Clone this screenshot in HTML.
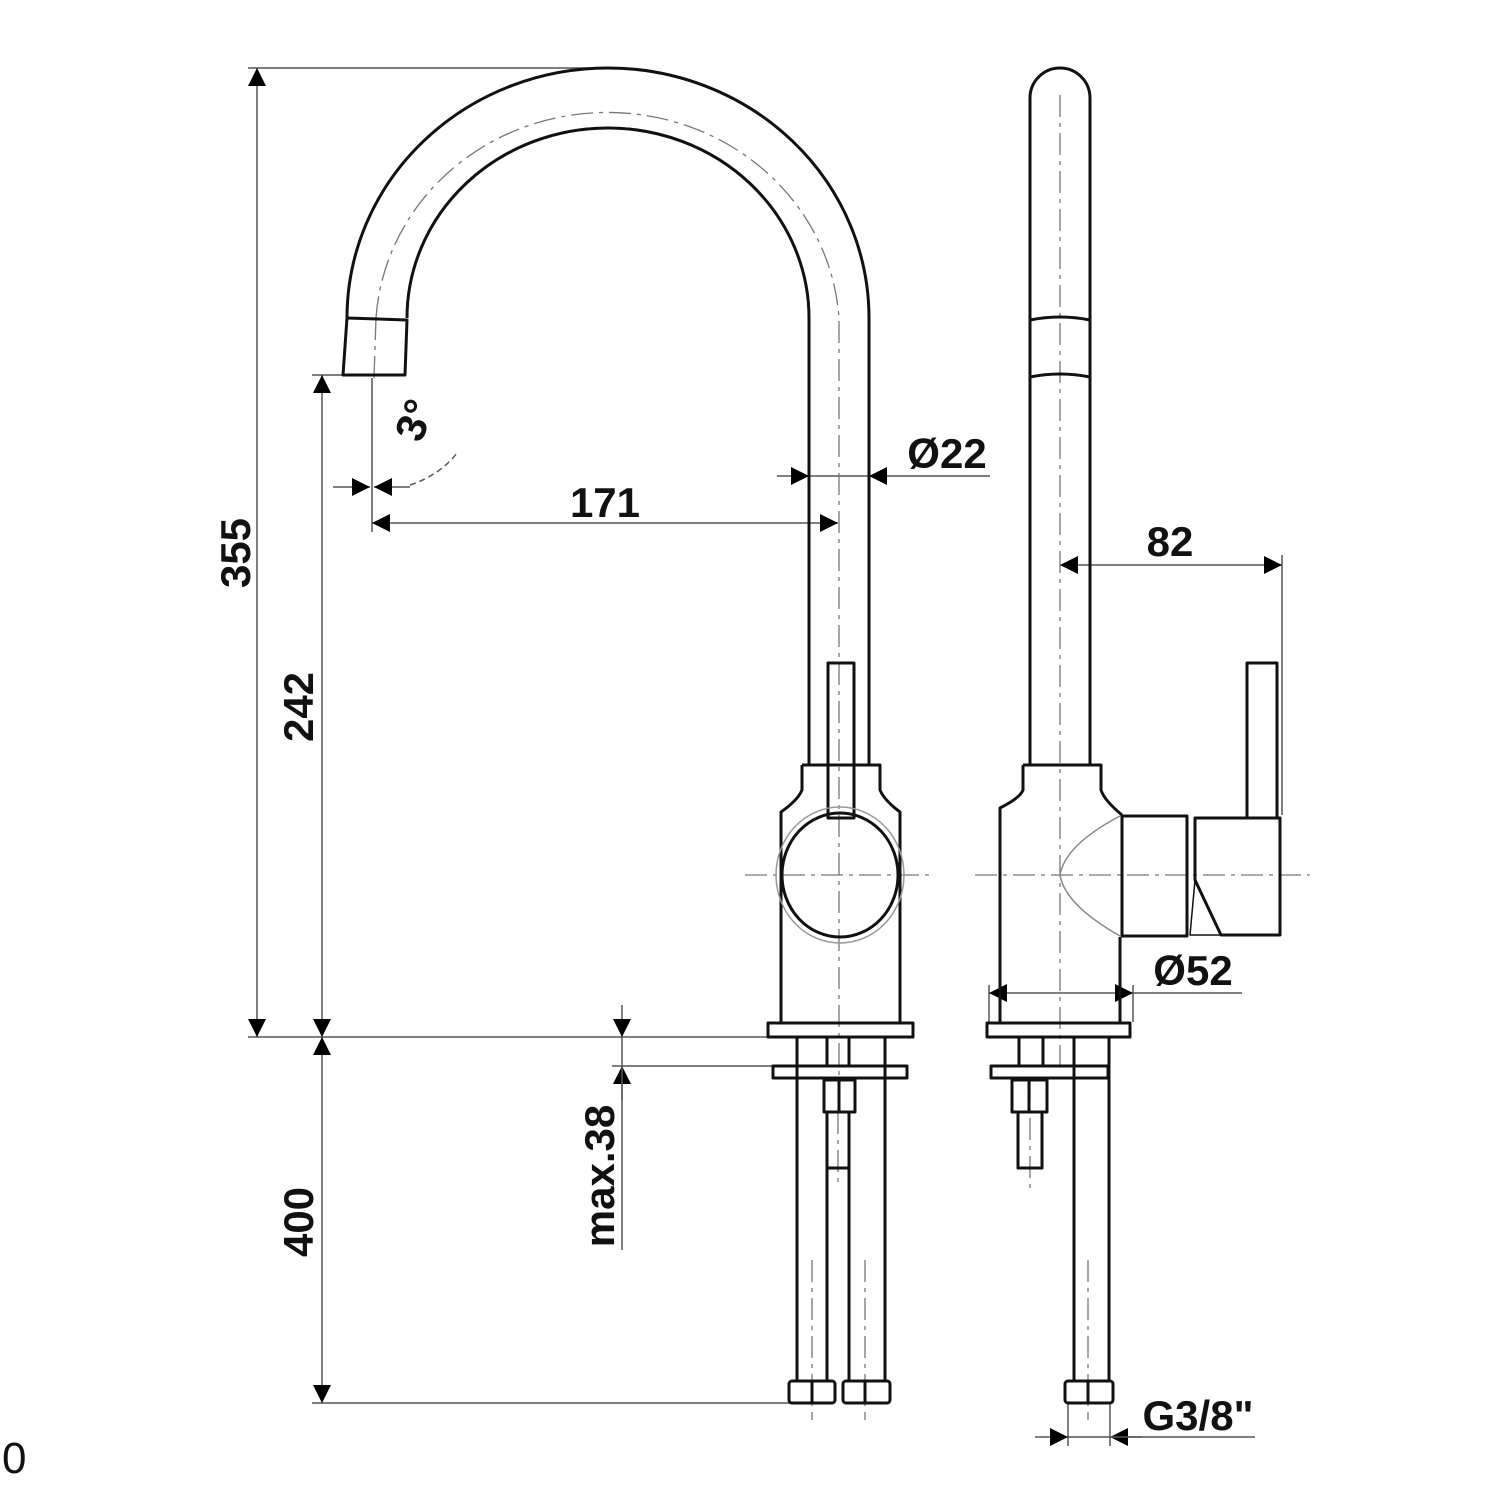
<!DOCTYPE html>
<html><head><meta charset="utf-8"><style>
html,body{margin:0;padding:0;background:#fff;}
svg{display:block;}
text{font-family:"Liberation Sans",Arial,sans-serif;font-weight:bold;fill:#111;}
</style></head><body>
<svg width="1500" height="1500" viewBox="0 0 1500 1500" xmlns="http://www.w3.org/2000/svg">
<defs>
<marker id="a" viewBox="0 0 10 10" refX="10" refY="5" markerWidth="34" markerHeight="18" markerUnits="userSpaceOnUse" orient="auto-start-reverse"><path d="M0,0 L10,5 L0,10 Z" fill="#000"/></marker>
</defs>
<g fill="none" stroke="#555" stroke-width="1.5">
<line x1="248" y1="68" x2="600" y2="68"/>
<line x1="312" y1="375" x2="345" y2="375"/>
<line x1="248" y1="1037" x2="770" y2="1037"/>
<line x1="312" y1="1403" x2="790" y2="1403"/>
<line x1="612" y1="1066" x2="775" y2="1066"/>
<line x1="372" y1="378" x2="372" y2="532"/>
<line x1="1282" y1="555" x2="1282" y2="815"/>
<line x1="989" y1="985" x2="989" y2="1022"/>
<line x1="1133" y1="985" x2="1133" y2="1022"/>
<line x1="1068" y1="1403" x2="1068" y2="1446"/>
<line x1="1110" y1="1403" x2="1110" y2="1446"/>
<line x1="257" y1="68" x2="257" y2="1037" marker-start="url(#a)" marker-end="url(#a)"/>
<line x1="322" y1="375" x2="322" y2="1037" marker-start="url(#a)" marker-end="url(#a)"/>
<line x1="322" y1="1037" x2="322" y2="1403" marker-start="url(#a)" marker-end="url(#a)"/>
<line x1="622" y1="1005" x2="622" y2="1037" marker-end="url(#a)"/>
<line x1="622" y1="1100" x2="622" y2="1066" marker-end="url(#a)"/>
<line x1="622" y1="1037" x2="622" y2="1250"/>
<line x1="372" y1="523" x2="838" y2="523" marker-start="url(#a)" marker-end="url(#a)"/>
<line x1="777" y1="476" x2="809" y2="476" marker-end="url(#a)"/>
<line x1="990" y1="476" x2="869" y2="476" marker-end="url(#a)"/>
<line x1="809" y1="476" x2="869" y2="476"/>
<line x1="333" y1="487" x2="370" y2="487" marker-end="url(#a)"/>
<line x1="410" y1="487" x2="374" y2="487" marker-end="url(#a)"/>
<path d="M410,485 Q440,475 457,453" stroke-dasharray="6,4"/>
<line x1="1060" y1="565" x2="1282" y2="565" marker-start="url(#a)" marker-end="url(#a)"/>
<line x1="989" y1="993" x2="1133" y2="993" marker-start="url(#a)" marker-end="url(#a)"/>
<line x1="1133" y1="993" x2="1242" y2="993"/>
<line x1="1035" y1="1437" x2="1068" y2="1437" marker-end="url(#a)"/>
<line x1="1142" y1="1437" x2="1110" y2="1437" marker-end="url(#a)"/>
<line x1="1068" y1="1437" x2="1255" y2="1437"/>
</g>
<g fill="none" stroke="#777" stroke-width="1.3" stroke-dasharray="22,6,4,6">
<path d="M376,318 A232 220 0 0 1 839,318 L839,1075"/>
<line x1="376" y1="318" x2="374" y2="378"/>
<line x1="745" y1="875" x2="930" y2="875"/>
<line x1="975" y1="875" x2="1310" y2="875"/>
<line x1="1060" y1="95" x2="1060" y2="1066"/>
<line x1="838" y1="1112" x2="838" y2="1185"/>
<line x1="1030" y1="1080" x2="1030" y2="1190"/>
<line x1="812" y1="1260" x2="812" y2="1420"/>
<line x1="865" y1="1260" x2="865" y2="1420"/>
<line x1="1088" y1="1260" x2="1088" y2="1420"/>
</g>
<g fill="none" stroke="#111" stroke-width="3" stroke-linejoin="round">
<path d="M347,318 A261 250 0 0 1 869,318 L869,765"/>
<path d="M407,318 A201 190 0 0 1 809,318 L809,765"/>
<path d="M343,375 L347,318 L407,320 L405,375 Z"/>
<path d="M802,765 L880,765 L880,790 Q884,800 900,812 L900,1022 M802,765 L802,790 Q798,800 781,812 L781,1022"/>
<rect x="768" y="1023" width="145" height="14"/>
<rect x="828" y="663" width="26" height="155"/>
<ellipse cx="840" cy="875" rx="58" ry="62"/>
<ellipse cx="840" cy="875" rx="64" ry="68" stroke="#999" stroke-width="1.5"/>
<rect x="773" y="1066" width="134" height="12"/>
<line x1="797" y1="1037" x2="797" y2="1380"/>
<line x1="885" y1="1037" x2="885" y2="1380"/>
<line x1="827" y1="1037" x2="827" y2="1066"/>
<line x1="849" y1="1037" x2="849" y2="1066"/>
<rect x="824" y="1080" width="31" height="32"/>
<line x1="839" y1="1080" x2="839" y2="1112"/>
<line x1="827" y1="1112" x2="827" y2="1380"/>
<line x1="849" y1="1112" x2="849" y2="1380"/>
<line x1="827" y1="1168" x2="849" y2="1168"/>
<rect x="789" y="1381" width="46" height="22" rx="3"/>
<line x1="812" y1="1381" x2="812" y2="1403"/>
<rect x="843" y="1381" width="47" height="22" rx="3"/>
<line x1="865" y1="1381" x2="865" y2="1403"/>
<path d="M1030,765 L1030,98 A30 30 0 0 1 1090,98 L1090,765"/>
<path d="M1030,320 Q1060,314 1090,320 M1030,377 Q1060,371 1090,377"/>
<path d="M1023,765 L1101,765 L1101,790 Q1104,800 1122,815 M1023,765 L1023,790 Q1020,798 1000,808 L1000,1022 M1120,937 L1120,1022"/>
<rect x="1122" y="816" width="65" height="120"/>
<path d="M1195,818 L1280,818 L1280,935 L1221,935 L1195,880 Z"/>
<path d="M1187,818 L1187,935"/>
<path d="M1195,880 L1190,935 L1221,935" stroke-width="1.5"/>
<rect x="1247" y="663" width="30" height="155"/>
<path d="M1120,816 Q1065,845 1060,875 Q1065,905 1120,936" stroke="#888" stroke-width="1.5"/>
<rect x="987" y="1023" width="143" height="14"/>
<rect x="991" y="1066" width="117" height="12"/>
<line x1="1019" y1="1037" x2="1019" y2="1066"/>
<line x1="1043" y1="1037" x2="1043" y2="1066"/>
<line x1="1074" y1="1037" x2="1074" y2="1381"/>
<line x1="1109" y1="1037" x2="1109" y2="1381"/>
<rect x="1012" y="1080" width="35" height="32"/>
<line x1="1029" y1="1080" x2="1029" y2="1112"/>
<rect x="1018" y="1112" width="24" height="56"/>
<rect x="1065" y="1381" width="48" height="22" rx="3"/>
<line x1="1088" y1="1381" x2="1088" y2="1403"/>
</g>
<g font-size="42">
<text x="605" y="517" text-anchor="middle">171</text>
<text x="947" y="468" text-anchor="middle">Ø22</text>
<text x="1170" y="556" text-anchor="middle">82</text>
<text x="1193" y="985" text-anchor="middle">Ø52</text>
<text x="1198" y="1430" text-anchor="middle">G3/8"</text>
<text transform="translate(250,553) rotate(-90)" text-anchor="middle">355</text>
<text transform="translate(313,707) rotate(-90)" text-anchor="middle">242</text>
<text transform="translate(313,1222) rotate(-90)" text-anchor="middle">400</text>
<text transform="translate(614,1176) rotate(-90)" text-anchor="middle">max.38</text>
<text transform="translate(428,425) rotate(-70)" text-anchor="middle">3°</text>
<text x="2" y="1473" style="font-weight:normal;font-size:44px">0</text>
</g>
</svg>
</body></html>
